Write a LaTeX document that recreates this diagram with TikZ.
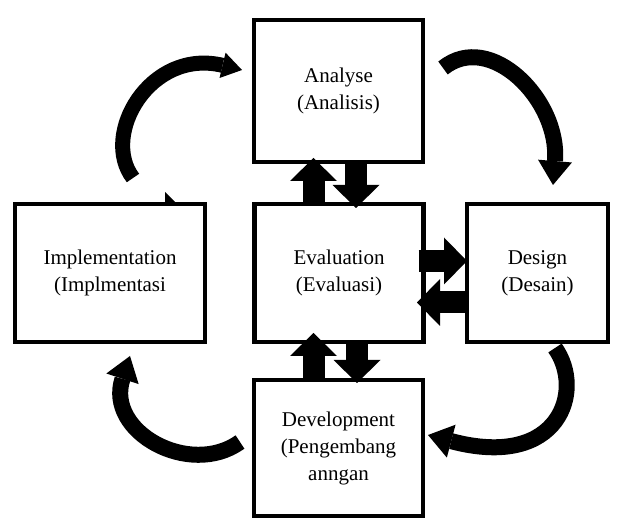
\documentclass[tikz,border=0pt]{standalone}
\usepackage{fontspec}
\setmainfont{Liberation Serif}
\usetikzlibrary{arrows.meta}
\tikzset{
  stage/.style={draw, line width=4.5pt, outer sep=0pt, inner sep=0pt, align=center,
    font=\fontsize{21}{27}\selectfont},
  blk/.style={line width=22pt, -{Triangle[width=47pt,length=23pt,line width=0pt]}},
  crv/.style={line width=16pt, -{Triangle[width=34pt,length=24pt,line width=0pt]}},
}
\begin{document}
\begin{tikzpicture}[x=1pt,y=-1pt]
  \useasboundingbox (0,0) rectangle (622,521);
  \node[stage, minimum width=169pt, minimum height=142pt] (ana) at (338.5,91) {Analyse\\(Analisis)};
  \node[stage, minimum width=169pt, minimum height=138pt] (eval) at (339,273) {Evaluation\\(Evaluasi)};
  \node[stage, minimum width=190pt, minimum height=138pt] (impl) at (110,273) {Implementation\\(Implmentasi};
  \node[stage, minimum width=141pt, minimum height=138pt] (des) at (537.5,273) {Design\\(Desain)};
  \node[stage, minimum width=169pt, minimum height=136pt] (dev) at (338.5,448) {Development\\(Pengembang\\anngan};
  % block arrows around evaluation
  \draw[blk] ([xshift=-25.5pt]eval.north) -- ([xshift=-25pt,yshift=4pt]ana.south);
  \draw[blk] ([xshift=17.5pt]ana.south) -- ([xshift=17pt,yshift=-4pt]eval.north);
  \draw[blk] ([xshift=-25pt]dev.north) -- ([xshift=-25.5pt,yshift=9pt]eval.south);
  \draw[blk] ([xshift=18pt]eval.south) -- ([xshift=18.5pt,yshift=-3pt]dev.north);
  \draw[blk] ([xshift=-5pt,yshift=12pt]eval.east) -- ([yshift=12pt]des.west);
  \draw[blk] ([yshift=-29.5pt]des.west) -- ([xshift=-6.5pt,yshift=-29.5pt]eval.east);
  % curved arrows of the cycle
  \coordinate (tlS) at (133,178);
  \coordinate (tlE) at (242,70);
  \coordinate (trS) at (443,68);
  \coordinate (trE) at (553,185);
  \coordinate (brS) at (555,348);
  \coordinate (brE) at (428,435);
  \coordinate (blS) at (240,442);
  \coordinate (blE) at (130,356);
  \draw[crv, line width=15pt, -{Triangle[width=26pt,length=20pt,line width=0pt]}]
    (tlS) .. controls (100,135) and (150,48) .. (tlE);
  \draw[crv] (trS) .. controls (490,30) and (560,100) .. (trE);
  \draw[crv] (brS) .. controls (585,390) and (560,470) .. (brE);
  \draw[crv] (blS) .. controls (190,478) and (105,432) .. (blE);
  \fill (165,192) -- (177,204) -- (165,204) -- cycle;
\end{tikzpicture}
\end{document}
